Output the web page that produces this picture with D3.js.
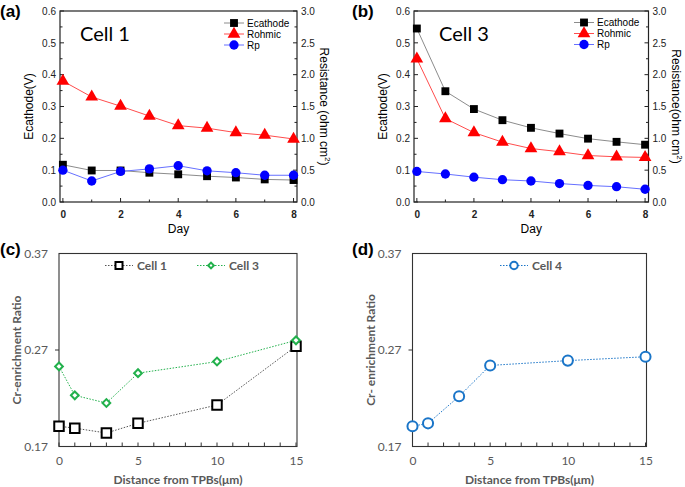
<!DOCTYPE html>
<html>
<head>
<meta charset="utf-8">
<script src="https://cdn.jsdelivr.net/npm/d3@7"></script>
<style>
  body { margin: 0; background: #fff; }
  svg { display: block; }
</style>
</head>
<body>
<svg id="fig" width="685" height="487"></svg>
<script>
// ---- data ----
const days = [0, 1, 2, 3, 4, 5, 6, 7, 8];

// cell 1 (panel a)
const cell1Ecathode = [0.117, 0.099, 0.099, 0.092, 0.087, 0.081, 0.077, 0.071, 0.069];
const cell1Rohmic = [1.90, 1.65, 1.505, 1.35, 1.20, 1.16, 1.09, 1.05, 0.99];
const cell1Rp = [0.50, 0.33, 0.48, 0.52, 0.57, 0.49, 0.46, 0.42, 0.42];

// cell 3 (panel b)
const cell3Ecathode = [0.545, 0.348, 0.292, 0.257, 0.233, 0.215, 0.199, 0.189, 0.180];
const cell3Rohmic = [2.25, 1.31, 1.09, 0.94, 0.84, 0.79, 0.73, 0.71, 0.70];
const cell3Rp = [0.48, 0.44, 0.39, 0.35, 0.33, 0.29, 0.26, 0.24, 0.20];

// Cr-enrichment (panels c, d)
const distances = [0, 1, 3, 5, 10, 15];
const crCell1 = [0.191, 0.189, 0.184, 0.194, 0.213, 0.274];
const crCell3 = [0.253, 0.223, 0.215, 0.246, 0.258, 0.280];
const crCell4 = [0.191, 0.194, 0.222, 0.254, 0.259, 0.263];

const dayTicks = [0, 2, 4, 6, 8];
const voltTicks = [0, 0.1, 0.2, 0.3, 0.4, 0.5, 0.6];
const resTicks = [0, 0.5, 1.0, 1.5, 2.0, 2.5, 3.0];
const crTicks = [0.17, 0.27, 0.37];
const distTicks = [0, 5, 10, 15];

const svg = d3.select('#fig');
const ARIAL = 'Liberation Sans, Arial, sans-serif';
const CALIBRI = 'Lato, Open Sans, sans-serif';

// panel letters
[['(a)', 0, 17], ['(b)', 352, 17], ['(c)', 0, 255], ['(d)', 352, 255]].forEach(([t, x, y]) => {
  svg.append('text').attr('x', x).attr('y', y)
    .attr('font-family', ARIAL).attr('font-weight', 'bold').attr('font-size', 17)
    .text(t);
});

function drawDayPanel(opt) {
  const x = d3.scaleLinear().domain([-0.1, 8.12]).range([opt.left, opt.right]);
  const yL = d3.scaleLinear().domain([0, 0.6]).range([opt.bottom, opt.top]);
  const yR = d3.scaleLinear().domain([0, 3]).range([opt.bottom, opt.top]);
  const g = svg.append('g');

  // frame
  g.append('rect')
    .attr('x', opt.left).attr('y', opt.top)
    .attr('width', opt.right - opt.left).attr('height', opt.bottom - opt.top)
    .attr('fill', 'none').attr('stroke', '#222').attr('stroke-width', 1.2);

  // inward ticks, major and minor
  const ticks = g.append('g').attr('stroke', '#222');
  days.forEach(d => {
    ticks.append('line').attr('x1', x(d)).attr('x2', x(d))
      .attr('y1', opt.bottom).attr('y2', opt.bottom - (d % 2 ? 2.5 : 4));
  });
  d3.range(0, 0.61, 0.05).forEach(v => {
    const big = Math.abs(v * 10 - Math.round(v * 10)) < 1e-6;
    ticks.append('line').attr('x1', opt.left).attr('x2', opt.left + (big ? 4 : 2.5))
      .attr('y1', yL(v)).attr('y2', yL(v));
  });
  d3.range(0, 3.01, 0.25).forEach(v => {
    const big = Math.abs(v * 2 - Math.round(v * 2)) < 1e-6;
    ticks.append('line').attr('x1', opt.right).attr('x2', opt.right - (big ? 4 : 2.5))
      .attr('y1', yR(v)).attr('y2', yR(v));
  });

  // tick labels via axes
  const ax = g.append('g').attr('transform', `translate(0,${opt.bottom})`)
    .call(d3.axisBottom(x).tickValues(dayTicks).tickSize(0).tickPadding(9).tickFormat(d3.format('d')));
  const ayL = g.append('g').attr('transform', `translate(${opt.left},0)`)
    .call(d3.axisLeft(yL).tickValues(voltTicks).tickSize(0).tickPadding(4).tickFormat(d3.format('.1f')));
  const ayR = g.append('g').attr('transform', `translate(${opt.right},0)`)
    .call(d3.axisRight(yR).tickValues(resTicks).tickSize(0).tickPadding(4).tickFormat(d3.format('.1f')));
  [ax, ayL, ayR].forEach(a => {
    a.select('.domain').remove();
    a.selectAll('text').attr('font-family', ARIAL).attr('font-size', 10).attr('fill', '#222');
  });
  ax.selectAll('text').attr('font-weight', 'bold');

  // axis titles
  g.append('text').attr('x', (opt.left + opt.right) / 2).attr('y', opt.bottom + 31)
    .attr('text-anchor', 'middle').attr('font-family', ARIAL).attr('font-size', 12).text('Day');
  g.append('text')
    .attr('transform', `translate(${opt.left - 27},${(opt.top + opt.bottom) / 2}) rotate(-90)`)
    .attr('text-anchor', 'middle').attr('font-family', ARIAL).attr('font-size', 12).text('Ecathode(V)');
  const rt = g.append('text')
    .attr('transform', `translate(${opt.right + 23},${(opt.top + opt.bottom) / 2}) rotate(90)`)
    .attr('text-anchor', 'middle').attr('font-family', ARIAL).attr('font-size', 12);
  rt.append('tspan').text(opt.resTitle);
  rt.append('tspan').attr('font-size', 8).attr('dy', -5).text('2');
  rt.append('tspan').attr('dy', 5).text(')');

  // big cell label
  g.append('text').attr('x', opt.cellX).attr('y', 41)
    .attr('font-family', CALIBRI).attr('font-size', 20).text(opt.cell);

  const series = [
    { name: 'Ecathode', vals: opt.ecathode, y: yL, line: '#8c8c8c', fill: '#000', shape: d3.symbolSquare, size: 62 },
    { name: 'Rohmic', vals: opt.rohmic, y: yR, line: '#ff4d4d', fill: '#ff0000', shape: d3.symbolTriangle, size: 70 },
    { name: 'Rp', vals: opt.rp, y: yR, line: '#6670ff', fill: '#0000ff', shape: d3.symbolCircle, size: 68 }
  ];

  series.forEach(s => {
    const line = d3.line().x((d, i) => x(days[i])).y(d => s.y(d));
    g.append('path').datum(s.vals).attr('d', line)
      .attr('fill', 'none').attr('stroke', s.line).attr('stroke-width', 1);
    g.append('g').selectAll('path').data(s.vals).enter().append('path')
      .attr('transform', (d, i) => `translate(${x(days[i])},${s.y(d)})`)
      .attr('d', d3.symbol().type(s.shape).size(s.size))
      .attr('fill', s.fill);
  });

  // legend
  series.forEach((s, i) => {
    const ly = opt.legendY + i * 11;
    g.append('line').attr('x1', opt.legendX - 10).attr('x2', opt.legendX + 10)
      .attr('y1', ly).attr('y2', ly).attr('stroke', s.line).attr('stroke-width', 1);
    g.append('path').attr('transform', `translate(${opt.legendX},${ly})`)
      .attr('d', d3.symbol().type(s.shape).size(s.size)).attr('fill', s.fill);
    g.append('text').attr('x', opt.legendX + 13).attr('y', ly + 3.5)
      .attr('font-family', ARIAL).attr('font-size', 10).text(s.name);
  });
}

drawDayPanel({
  left: 60, right: 297, top: 11, bottom: 202,
  ecathode: cell1Ecathode, rohmic: cell1Rohmic, rp: cell1Rp,
  cell: 'Cell 1', cellX: 80, resTitle: 'Resistance (ohm cm',
  legendX: 234, legendY: 23
});

drawDayPanel({
  left: 414, right: 648.5, top: 11, bottom: 202,
  ecathode: cell3Ecathode, rohmic: cell3Rohmic, rp: cell3Rp,
  cell: 'Cell 3', cellX: 439, resTitle: 'Resistance(ohm cm',
  legendX: 584, legendY: 22.5
});

function drawCrPanel(opt) {
  const x = d3.scaleLinear().domain([0, 15]).range([opt.left, opt.right - 1]);
  const y = d3.scaleLinear().domain([0.17, 0.37]).range([opt.bottom, opt.top]);
  const g = svg.append('g');

  g.append('rect')
    .attr('x', opt.left).attr('y', opt.top)
    .attr('width', opt.right - opt.left).attr('height', opt.bottom - opt.top)
    .attr('fill', 'none').attr('stroke', '#333').attr('stroke-width', 1.1);

  // bottom inward ticks every 1 µm
  d3.range(0, 16).forEach(d => {
    g.append('line').attr('x1', x(d)).attr('x2', x(d))
      .attr('y1', opt.bottom).attr('y2', opt.bottom - 4).attr('stroke', '#333');
  });
  g.append('line').attr('x1', opt.left - 4).attr('x2', opt.left)
    .attr('y1', y(0.27)).attr('y2', y(0.27)).attr('stroke', '#333');

  const ax = g.append('g').attr('transform', `translate(0,${opt.bottom})`)
    .call(d3.axisBottom(x).tickValues(distTicks).tickSize(0).tickPadding(10));
  const ay = g.append('g').attr('transform', `translate(${opt.left},0)`)
    .call(d3.axisLeft(y).tickValues(crTicks).tickSize(0).tickPadding(11).tickFormat(d3.format('.2f')));
  [ax, ay].forEach(a => {
    a.select('.domain').remove();
    a.selectAll('text').attr('font-family', CALIBRI).attr('font-size', 12).attr('fill', '#595959');
  });

  g.append('text').attr('x', (opt.left + opt.right) / 2).attr('y', opt.bottom + 37)
    .attr('text-anchor', 'middle').attr('font-family', CALIBRI).attr('font-weight', 'bold')
    .attr('font-size', 12).attr('fill', '#595959').text('Distance from TPBs(\u03bcm)');
  g.append('text')
    .attr('transform', `translate(${opt.left - 38},${(opt.top + opt.bottom) / 2}) rotate(-90)`)
    .attr('text-anchor', 'middle').attr('font-family', CALIBRI).attr('font-weight', 'bold')
    .attr('font-size', 12).attr('fill', '#595959').text(opt.yTitle);

  opt.series.forEach(s => {
    const line = d3.line().x((d, i) => x(distances[i])).y(d => y(d));
    g.append('path').datum(s.vals).attr('d', line)
      .attr('fill', 'none').attr('stroke', s.line).attr('stroke-width', 1)
      .attr('stroke-dasharray', '1.5,1.5');
    g.append('g').selectAll('path').data(s.vals).enter().append('path')
      .attr('transform', (d, i) => `translate(${x(distances[i])},${y(d)}) rotate(${s.rot})`)
      .attr('d', d3.symbol().type(s.shape).size(s.size))
      .attr('fill', '#fff').attr('stroke', s.color).attr('stroke-width', s.sw);

    // legend entry
    g.append('line').attr('x1', s.lx - 14).attr('x2', s.lx + 14)
      .attr('y1', opt.legendY).attr('y2', opt.legendY)
      .attr('stroke', s.line).attr('stroke-dasharray', '1.5,1.5');
    g.append('path').attr('transform', `translate(${s.lx},${opt.legendY}) rotate(${s.rot})`)
      .attr('d', d3.symbol().type(s.shape).size(s.size * 0.55))
      .attr('fill', '#fff').attr('stroke', s.color).attr('stroke-width', s.sw);
    g.append('text').attr('x', s.lx + 18).attr('y', opt.legendY + 4.5)
      .attr('font-family', CALIBRI).attr('font-weight', 'bold').attr('font-size', 12)
      .attr('fill', '#595959').text(s.name);
  });
}

drawCrPanel({
  left: 59, right: 297, top: 253.5, bottom: 446.5,
  yTitle: 'Cr-enrichment Ratio', legendY: 265.5,
  series: [
    { name: 'Cell 1', vals: crCell1, color: '#000', line: '#555', shape: d3.symbolSquare, size: 90, sw: 2, lx: 119, rot: 0 },
    { name: 'Cell 3', vals: crCell3, color: '#22b14c', line: '#22b14c', shape: d3.symbolSquare, size: 30, sw: 2, lx: 211, rot: 45 }
  ]
});

drawCrPanel({
  left: 412.5, right: 646.5, top: 253.5, bottom: 446.5,
  yTitle: 'Cr- enrichment Ratio', legendY: 265.5,
  series: [
    { name: 'Cell 4', vals: crCell4, color: '#1a75c8', line: '#1a75c8', shape: d3.symbolCircle, size: 80, sw: 2, lx: 514, rot: 0 }
  ]
});
</script>
</body>
</html>
